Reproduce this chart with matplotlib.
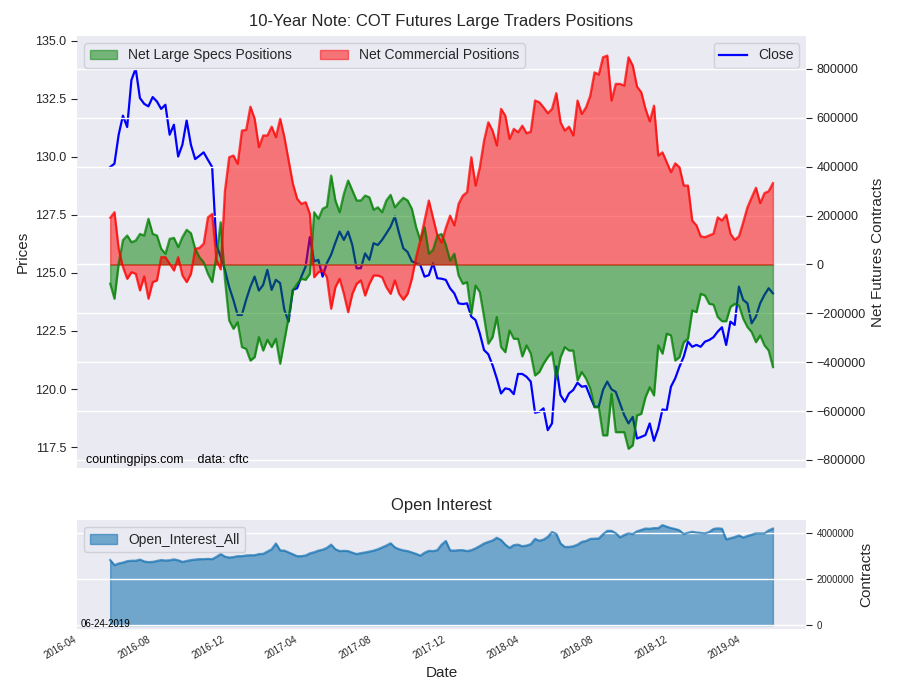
import matplotlib
matplotlib.use("Agg")
import matplotlib.pyplot as plt
import matplotlib.dates as mdates
import numpy as np
import pandas as pd

plt.rcParams['font.family'] = ['Liberation Sans', 'DejaVu Sans']
plt.rcParams['axes.facecolor'] = '#EAEAF2'
plt.rcParams['axes.edgecolor'] = 'white'
plt.rcParams['grid.color'] = 'white'
plt.rcParams['text.color'] = '.15'
plt.rcParams['axes.labelcolor'] = '.15'
plt.rcParams['xtick.color'] = '.15'
plt.rcParams['ytick.color'] = '.15'

# weekly report dates
dates = pd.date_range('2016-05-24', periods=157, freq='7D')

close = [
    129.56, 129.7, 130.95, 131.77, 131.28, 133.3, 133.8, 132.53, 132.28, 132.17,
    132.57, 132.38, 132.06, 132.24, 130.95, 131.38, 130.01, 130.52, 131.56, 130.52,
    129.9, 130.04, 130.19, 129.87, 129.56, 126.2, 125.7, 125.13, 124.4, 123.84,
    123.19, 123.19, 123.84, 124.4, 124.84, 124.24, 124.48, 125.13, 124.27, 124.7,
    124.56, 123.41, 122.9, 124.27, 124.34, 124.84, 125.27, 126.54, 125.5, 125.56,
    124.84, 125.42, 125.78, 126.3, 126.78, 126.42, 126.78, 126.2, 125.2, 125.2,
    125.84, 125.56, 126.28, 126.2, 126.42, 126.7, 126.99, 127.43, 126.71, 126.06,
    125.9, 125.5, 125.42, 125.34, 124.84, 124.9, 125.42, 124.77, 124.75, 124.7,
    124.34, 124.12, 123.69, 123.66, 123.69, 123.12, 122.97, 122.4, 121.68, 121.5,
    121.03, 120.46, 119.81, 120.03, 119.99, 119.78, 120.65, 120.65, 120.53, 120.32,
    118.98, 119.02, 119.17, 118.23, 118.52, 120.97, 119.74, 119.45, 119.81, 119.96,
    120.27, 120.1, 120.13, 119.67, 119.24, 119.24, 119.96, 120.32, 119.99, 119.88,
    119.38, 118.88, 118.52, 118.8, 117.87, 117.94, 118.02, 118.52, 117.77, 118.3,
    119.12, 119.09, 120.1, 120.46, 120.96, 121.39, 122.04, 121.82, 121.9, 121.82,
    122.04, 122.11, 122.23, 122.47, 122.66, 121.9, 122.9, 122.76, 124.41, 123.84,
    123.69, 122.83, 123.12, 123.69, 124.05, 124.34, 124.12,
]

large_specs = [
    -79000, -140000, 5000, 100000, 118600, 91000, 98000, 125000, 118600, 187000,
    125000, 118600, 64000, 44000, 105000, 109000, 71000, 112000, 142000, 128000,
    64000, 30000, 9000, -38000, -72000, 37000, 173000, -60000, -229000, -263000,
    -236000, -338000, -345000, -393000, -379000, -297000, -352000, -308000, -338000, -304000,
    -406000, -311000, -215000, -106000, -79000, -58500, -62600, -38000, 214000, 187000,
    228000, 237000, 364000, 262000, 214000, 289000, 343600, 302700, 262000, 262000,
    282000, 275000, 224000, 234000, 214000, 262000, 285000, 234000, 255000, 273000,
    262000, 228000, 153000, 98000, 153000, 44000, 60000, 118000, 125000, 80000,
    16000, 44000, -45000, -79000, -72000, -202000, -86000, -113000, -215000, -324000,
    -297000, -215000, -338000, -359000, -270000, -304000, -304000, -376000, -331000, -365000,
    -454000, -440000, -406000, -379000, -359000, -467000, -379000, -338000, -352000, -352000,
    -474000, -440000, -467000, -508000, -584000, -584000, -699000, -699000, -529000, -686000,
    -686000, -686000, -754000, -740000, -618000, -611000, -543000, -502000, -536000, -331000,
    -365000, -283000, -290000, -393000, -379000, -318000, -304000, -188000, -195000, -120000,
    -127000, -161000, -164000, -215000, -232000, -232000, -174000, -161000, -168000, -222000,
    -256000, -277000, -318000, -290000, -331000, -352000, -420000,
]

commercials = [
    191000, 214000, 64000, -11000, -58500, -31500, -38000, -106000, -49000, -140000,
    -72000, -65000, 30000, 30000, 3000, -24500, 30000, -45000, -72000, -38000,
    64000, 68000, 85000, 193000, 207000, 20000, -20000, 300000, 439000, 446000,
    412000, 548000, 551000, 646000, 596000, 480000, 528000, 528000, 564000, 521000,
    596000, 521000, 425000, 330000, 269000, 248000, 255000, 207000, -52000, -31500,
    -24500, -52000, -181000, -93000, -58500, -120000, -195000, -120000, -79000, -65000,
    -127000, -79000, -45000, -45000, -52000, -93000, -120000, -65000, -120000, -144000,
    -120000, -58500, 30000, 100000, 180000, 262000, 190000, 120000, 90000, 150000,
    200000, 160000, 248000, 282000, 296000, 439000, 323000, 398000, 507000, 582000,
    548000, 487000, 637000, 609000, 514000, 555000, 541000, 568000, 537000, 544000,
    671000, 664000, 643000, 619000, 637000, 701000, 582000, 548000, 564000, 528000,
    671000, 616000, 643000, 691000, 786000, 777000, 848000, 855000, 671000, 739000,
    739000, 732000, 848000, 814000, 728000, 705000, 637000, 586000, 650000, 446000,
    459000, 418000, 378000, 414000, 398000, 323000, 323000, 180000, 160000, 115000,
    112000, 119000, 126000, 193000, 180000, 204000, 126000, 101000, 115000, 173000,
    234000, 275000, 314000, 251000, 292000, 300000, 333000,
]

# open interest, millions of contracts
open_interest = [
    2.83, 2.61, 2.68, 2.72, 2.78, 2.80, 2.80, 2.85, 2.77, 2.74,
    2.75, 2.79, 2.83, 2.81, 2.82, 2.86, 2.82, 2.75, 2.79, 2.83,
    2.85, 2.87, 2.87, 2.88, 2.87, 2.97, 3.09, 2.98, 2.94, 2.96,
    3.00, 3.00, 3.03, 3.04, 3.04, 3.09, 3.10, 3.20, 3.30, 3.55,
    3.25, 3.24, 3.16, 3.08, 3.00, 3.00, 3.03, 3.12, 3.17, 3.24,
    3.28, 3.36, 3.50, 3.30, 3.22, 3.23, 3.22, 3.15, 3.09, 3.13,
    3.16, 3.20, 3.24, 3.30, 3.38, 3.46, 3.56, 3.38, 3.30, 3.25,
    3.22, 3.16, 3.10, 3.02, 3.15, 3.23, 3.22, 3.26, 3.50, 3.66,
    3.25, 3.24, 3.26, 3.26, 3.22, 3.26, 3.34, 3.44, 3.55, 3.62,
    3.68, 3.80, 3.70, 3.50, 3.36, 3.48, 3.50, 3.43, 3.46, 3.52,
    3.75, 3.67, 3.72, 3.84, 4.05, 3.97, 3.55, 3.40, 3.40, 3.43,
    3.50, 3.62, 3.66, 3.75, 3.76, 3.77, 3.95, 4.10, 4.10, 4.00,
    3.82, 3.92, 3.99, 3.96, 4.08, 4.14, 4.20, 4.19, 4.22, 4.22,
    4.35, 4.28, 4.22, 4.18, 4.12, 3.96, 4.02, 4.06, 4.03, 4.01,
    3.99, 4.05, 4.18, 4.21, 4.19, 3.73, 3.78, 3.83, 3.90, 3.81,
    3.88, 3.93, 3.99, 3.99, 3.99, 4.12, 4.20,
]
open_interest = np.array(open_interest) * 1e6

fig = plt.figure(figsize=(9, 7), dpi=100)

ax1 = fig.add_axes([0.0856, 0.3314, 0.81, 0.6172])
ax1.plot(dates, close, color='blue', lw=1.6, label='Close')
ax1.set_ylim(116.6, 135.2)
ax1.set_ylabel('Prices', fontsize=11)
ax1.grid(False)
ax1.tick_params(axis='y', labelsize=9, length=4)
ax1.tick_params(axis='x', labelbottom=False, length=0)
for s in ax1.spines.values():
    s.set_visible(False)
ax1.legend(loc='upper right', fontsize=10, frameon=True, facecolor='#EAEAF2',
           edgecolor='#D0D0D8', framealpha=1)

ax2 = ax1.twinx()
ax2.fill_between(dates, large_specs, 0, color='green', alpha=0.5,
                 label='Net Large Specs Positions')
ax2.plot(dates, large_specs, color='green', alpha=0.7, lw=1.6)
ax2.fill_between(dates, commercials, 0, color='red', alpha=0.5,
                 label='Net Commercial Positions')
ax2.plot(dates, commercials, color='red', alpha=0.7, lw=1.6)
ax2.set_ylim(-833000, 935000)
ax2.set_yticks(np.arange(-800000, 800001, 200000))
ax2.ticklabel_format(style='plain', axis='y')
ax2.set_ylabel('Net Futures Contracts', fontsize=11)
ax2.grid(True, color='white', lw=1)
ax2.set_axisbelow(True)
ax2.tick_params(axis='y', labelsize=9, length=4)
for s in ax2.spines.values():
    s.set_visible(False)
ax2.legend(loc='upper left', ncol=2, fontsize=10, frameon=True, facecolor='#EAEAF2',
           edgecolor='#D0D0D8', framealpha=1)
ax2.set_title('10-Year Note: COT Futures Large Traders Positions', fontsize=12, pad=7)
ax2.text(0.012, 0.012, 'countingpips.com    data: cftc', transform=ax2.transAxes,
         fontsize=9, color='black')

ax3 = fig.add_axes([0.0856, 0.1014, 0.81, 0.1557], sharex=ax1)
ax3.fill_between(dates, open_interest, 0, color='#1f77b4', alpha=0.6,
                 label='Open_Interest_All')
ax3.plot(dates, open_interest, color='#1f77b4', alpha=0.7, lw=1.6)
ax3.set_ylim(-170000, 4570000)
ax3.set_yticks([0, 2000000, 4000000])
ax3.ticklabel_format(style='plain', axis='y')
ax3.yaxis.tick_right()
ax3.yaxis.set_label_position('right')
ax3.set_ylabel('Contracts', fontsize=11)
ax3.grid(True, axis='y', color='white', lw=1)
ax3.grid(False, axis='x')
ax3.tick_params(axis='y', labelsize=7, length=4)
ax3.tick_params(axis='x', labelsize=7, length=0)
for s in ax3.spines.values():
    s.set_visible(False)
ax3.set_title('Open Interest', fontsize=12, pad=7)
ax3.set_xlabel('Date', fontsize=11)
ax3.legend(loc='upper left', fontsize=10, frameon=True, facecolor='#EAEAF2',
           edgecolor='#D0D0D8', framealpha=1)
ax3.text(0.005, 0.02, '06-24-2019', transform=ax3.transAxes, fontsize=7, color='black')

ax3.xaxis.set_major_locator(mdates.MonthLocator(bymonth=[4, 8, 12]))
ax3.xaxis.set_major_formatter(mdates.DateFormatter('%Y-%m'))
for lbl in ax3.get_xticklabels():
    lbl.set_rotation(30)
    lbl.set_ha('right')

fig.savefig('out.png', dpi=100)
